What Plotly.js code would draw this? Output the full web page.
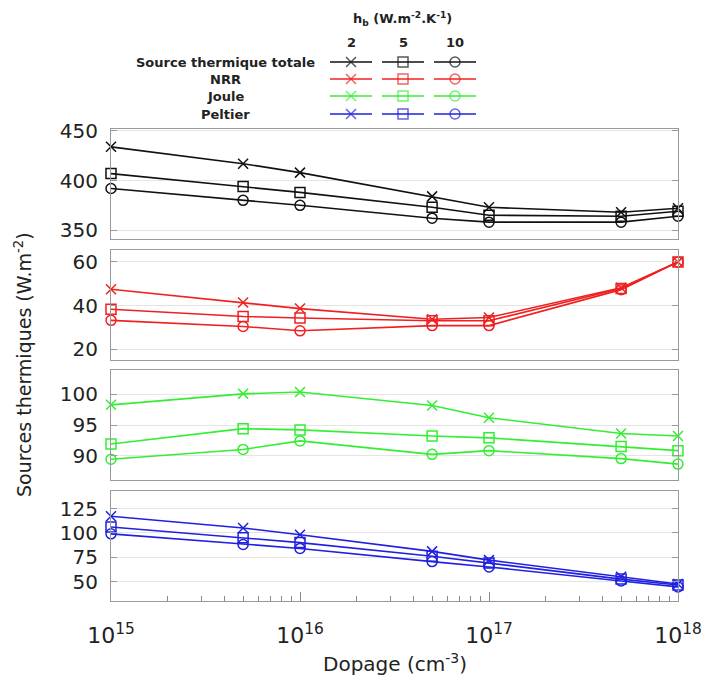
<!DOCTYPE html>
<html><head><meta charset="utf-8">
<script src="https://cdn.plot.ly/plotly-3.0.1.min.js"></script>
<style>body{margin:0;background:#fff}#c{width:704px;height:681px}</style>
</head><body><div id="c"></div>
<script>
const dopage = [1e15, 5e15, 1e16, 5e16, 1e17, 5e17, 1e18];
const hbLabels = ['2', '5', '10'];
const rowLabels = ['Source thermique totale', 'NRR', 'Joule', 'Peltier'];

const total_h2  = [434, 417, 408, 384, 373, 368, 372];
const total_h5  = [407, 394, 388, 373, 365, 364, 369];
const total_h10 = [392, 380, 375, 362, 358, 358, 364];

const nrr_h2  = [47.5, 41.4, 38.6, 33.7, 34.5, 48.2, 60];
const nrr_h5  = [38.3, 35.0, 34.3, 33.0, 33.0, 47.8, 60];
const nrr_h10 = [33.2, 30.4, 28.4, 30.8, 30.8, 47.3, 60];

const joule_h2  = [98.3, 100.1, 100.4, 98.2, 96.2, 93.6, 93.2];
const joule_h5  = [91.9, 94.4, 94.2, 93.2, 92.9, 91.5, 90.8];
const joule_h10 = [89.4, 91.0, 92.4, 90.2, 90.8, 89.5, 88.6];

const peltier_h2  = [117, 105, 98, 81, 72, 55, 47.5];
const peltier_h5  = [106, 95, 90, 76, 69, 52.5, 46.5];
const peltier_h10 = [99, 88, 84, 70.5, 65, 50.5, 44.5];

const majorTicks = [1e15, 1e16, 1e17, 1e18];
const majorText = ['10<sup>15</sup>', '10<sup>16</sup>', '10<sup>17</sup>', '10<sup>18</sup>'];
const minorTicks = [2e15, 3e15, 4e15, 5e15, 6e15, 7e15, 8e15, 9e15,
                    2e16, 3e16, 4e16, 5e16, 6e16, 7e16, 8e16, 9e16,
                    2e17, 3e17, 4e17, 5e17, 6e17, 7e17, 8e17, 9e17];

const colors = ['#111111', '#f02020', '#33ee33', '#2020e0'];
const symbols = ['x-thin-open', 'square-open', 'circle-open'];
const series = [
  [total_h2, total_h5, total_h10],
  [nrr_h2, nrr_h5, nrr_h10],
  [joule_h2, joule_h5, joule_h10],
  [peltier_h2, peltier_h5, peltier_h10]
];

const traces = [];
series.forEach((grp, p) => {
  grp.forEach((ys, k) => {
    traces.push({
      x: dopage, y: ys, type: 'scatter', mode: 'lines+markers', cliponaxis: false,
      xaxis: p === 0 ? 'x' : 'x' + (p + 1), yaxis: p === 0 ? 'y' : 'y' + (p + 1),
      line: {color: colors[p], width: 1.6},
      marker: {symbol: symbols[k], size: 10, color: colors[p], line: {color: colors[p], width: 1.5}},
      showlegend: false, hoverinfo: 'x+y'
    });
  });
});

// legend samples (layout positions in pixel space of overlay axis)
const legRowY = [62, 79, 96, 114];
const legColX = [351, 403, 455];
const legHalf = 21;
rowLabels.forEach((lab, r) => {
  legColX.forEach((cx, k) => {
    traces.push({
      x: [cx - legHalf, cx, cx + legHalf], y: [legRowY[r], legRowY[r], legRowY[r]],
      xaxis: 'x5', yaxis: 'y5', type: 'scatter', mode: 'lines+markers',
      line: {color: colors[r], width: 1.6},
      marker: {symbol: symbols[k], size: [0, 10, 0], color: colors[r], line: {color: colors[r], width: 1.5}},
      showlegend: false, hoverinfo: 'skip'
    });
  });
});

const xd = [111 / 704, 678 / 704];
function ydom(top, bot) { return [(681 - bot) / 681, (681 - top) / 681]; }
const tickFont = {family: 'DejaVu Sans, sans-serif', size: 20, color: '#222'};
function xax(anchor, showLabels) {
  const a = {
    type: 'log', domain: xd, anchor: anchor, range: [14.99999, 18.00001],
    showgrid: false, zeroline: false,
    showline: true, mirror: true, linecolor: '#9a9a9a', linewidth: 1,
    tickmode: 'array', tickvals: majorTicks, ticktext: majorText,
    tickfont: {family: 'DejaVu Sans, sans-serif', size: 22, color: '#222'},
    ticklabeloverflow: 'allow',
    fixedrange: true
  };
  if (showLabels) {
    a.ticks = 'inside'; a.ticklen = 9; a.tickcolor = '#888'; a.showticklabels = true;
    a.ticklabelstandoff = 15;
    a.minor = {tickmode: 'array', tickvals: minorTicks, ticks: 'inside', ticklen: 5, tickcolor: '#888', showgrid: false};
  } else {
    a.ticks = ''; a.showticklabels = false;
  }
  return a;
}
function yax(anchor, dom, range, tv) {
  return {
    domain: dom, anchor: anchor, range: range, tickmode: 'array', tickvals: tv,
    showgrid: true, gridcolor: '#e4e4e4', gridwidth: 1, zeroline: false,
    showline: true, mirror: 'ticks', linecolor: '#9a9a9a', linewidth: 1,
    ticks: 'inside', ticklen: 6, tickcolor: '#999',
    ticklabelstandoff: 8,
    tickfont: tickFont, fixedrange: true
  };
}

const layout = {
  width: 704, height: 681,
  margin: {l: 0, r: 0, t: 0, b: 0},
  paper_bgcolor: '#fff', plot_bgcolor: 'rgba(0,0,0,0)',
  font: {family: 'DejaVu Sans, sans-serif', color: '#222'},
  xaxis: xax('y', false),
  xaxis2: xax('y2', false),
  xaxis3: xax('y3', false),
  xaxis4: xax('y4', true),
  yaxis: yax('x', ydom(129, 239), [341, 452], [350, 400, 450]),
  yaxis2: yax('x2', ydom(250, 360), [15, 65.5], [20, 40, 60]),
  yaxis3: yax('x3', ydom(370, 480), [86, 104], [90, 95, 100]),
  yaxis4: yax('x4', ydom(491, 601), [30, 143], [50, 75, 100, 125]),
  xaxis5: {domain: [0, 1], range: [0, 704], visible: false, fixedrange: true, anchor: 'y5'},
  yaxis5: {domain: [0, 1], range: [681, 0], visible: false, fixedrange: true, anchor: 'x5'},
  annotations: [
    {xref: 'paper', yref: 'paper', x: 23 / 704, y: (681 - 365) / 681, textangle: -90,
     xanchor: 'center', yanchor: 'middle',
     text: 'Sources thermiques (W.m<sup>-2</sup>)', showarrow: false,
     font: {family: 'DejaVu Sans, sans-serif', size: 19, color: '#222'}},
    {xref: 'paper', yref: 'paper', x: 395 / 704, y: (681 - 663) / 681,
     xanchor: 'center', yanchor: 'middle',
     text: 'Dopage (cm<sup>-3</sup>)', showarrow: false,
     font: {family: 'DejaVu Sans, sans-serif', size: 20, color: '#222'}},
    {xref: 'x5', yref: 'y5', x: 402, y: 19, showarrow: false,
     text: '<b>h<sub>b</sub> (W.m<sup>-2</sup>.K<sup>-1</sup>)</b>',
     font: {family: 'DejaVu Sans, sans-serif', size: 13, color: '#222'}}
  ].concat(hbLabels.map((t, k) => ({
    xref: 'x5', yref: 'y5', x: legColX[k], y: 42, showarrow: false, text: '<b>' + t + '</b>',
    font: {family: 'DejaVu Sans, sans-serif', size: 13, color: '#222'}
  }))).concat(rowLabels.map((t, r) => ({
    xref: 'x5', yref: 'y5', x: 225, y: legRowY[r], showarrow: false, text: '<b>' + t + '</b>',
    font: {family: 'DejaVu Sans, sans-serif', size: 13, color: '#222'}
  })))
};

Plotly.newPlot('c', traces, layout, {staticPlot: true});
</script>
</body></html>
